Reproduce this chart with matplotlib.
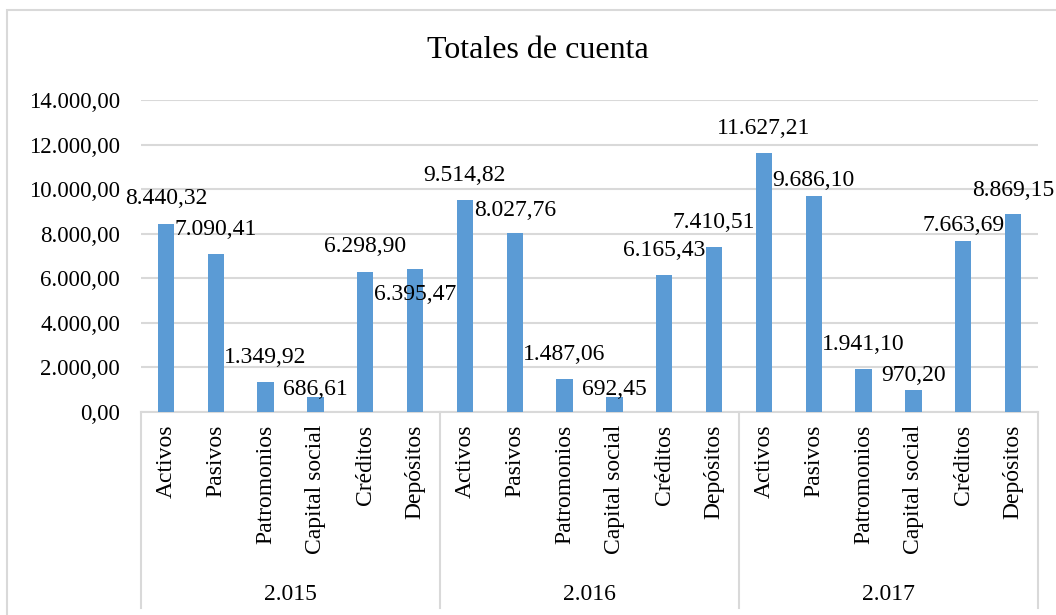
import numpy as np
import matplotlib
matplotlib.use('Agg')
import matplotlib.pyplot as plt
from matplotlib.lines import Line2D
from matplotlib.patches import Rectangle
from matplotlib.ticker import FuncFormatter

plt.rcParams['font.family'] = ['Liberation Serif', 'DejaVu Serif']

# data
years = ['2.015', '2.016', '2.017']
cuentas = ['Activos', 'Pasivos', 'Patromonios', 'Capital social', 'Créditos', 'Depósitos']
v2015 = [8440.32, 7090.41, 1349.92, 686.61, 6298.90, 6395.47]
v2016 = [9514.82, 8027.76, 1487.06, 692.45, 6165.43, 7410.51]
v2017 = [11627.21, 9686.10, 1941.10, 970.20, 7663.69, 8869.15]
yticks = np.arange(0, 14001, 2000)

# label centre above the bar top, in pixels (Excel placed them by hand)
label_lift = [25, 24, 24, 7, 25, -25,
              24, 23, 24, 7, 24, 24,
              24, 16, 24, 15, 16, 24]

values = v2015 + v2016 + v2017
n_cat = len(cuentas)
x = np.arange(len(values))

def fmt(v, pos=None):
    s = f'{v:,.2f}'
    return s.replace(',', 'X').replace('.', ',').replace('X', '.')

W, H = 1056, 615
fig = plt.figure(figsize=(W / 100, H / 100), dpi=100)
ax = fig.add_axes([141 / W, 1 - 412 / H, (1038 - 141) / W, 312 / H])

fs = 17
grid_c = '#d9d9d9'
ax.bar(x, values, width=0.33, color='#5b9bd5', zorder=3)
ax.set_xlim(-0.5, len(values) - 0.5)
ax.set_ylim(0, 14000)
ax.set_yticks(yticks)
ax.yaxis.set_major_formatter(FuncFormatter(fmt))
ax.tick_params(axis='y', length=0, pad=15, labelsize=16.5, colors='black')
ax.set_xticks([])
ax.grid(axis='y', color=grid_c, lw=1.5, zorder=0)
for s in ['left', 'right', 'top']:
    ax.spines[s].set_visible(False)
ax.spines['bottom'].set_color(grid_c)
ax.spines['bottom'].set_linewidth(1.5)

# value labels
for xi, v, lift in zip(x, values, label_lift):
    ax.annotate(fmt(v), (xi, v), xytext=(0, lift * 0.72), textcoords='offset points',
                ha='center', va='center', fontsize=fs, zorder=4)

# multi-level category axis
ax_h = 312.0
for xi in x:
    ax.text(xi, -13 / ax_h, cuentas[xi % n_cat], rotation=90, ha='center', va='top',
            fontsize=fs, transform=ax.get_xaxis_transform())
for g, yr in enumerate(years):
    ax.text(g * n_cat + (n_cat - 1) / 2, -183 / ax_h, yr, ha='center', va='center',
            fontsize=fs, transform=ax.get_xaxis_transform())
for g in range(len(years) + 1):
    xs = g * n_cat - 0.5
    ax.add_line(Line2D([xs, xs], [0, -196 / ax_h], color=grid_c, lw=1.5,
                       transform=ax.get_xaxis_transform(), clip_on=False))

# chart frame
fig.patches.append(Rectangle((7 / W, -0.1), 1.2, 1 - 10 / H + 0.1, fill=False,
                             edgecolor=grid_c, lw=1.5, transform=fig.transFigure))

fig.text(538 / W, 1 - 50 / H, 'Totales de cuenta', ha='center', va='center', fontsize=23)

fig.savefig('out.png', dpi=100)
